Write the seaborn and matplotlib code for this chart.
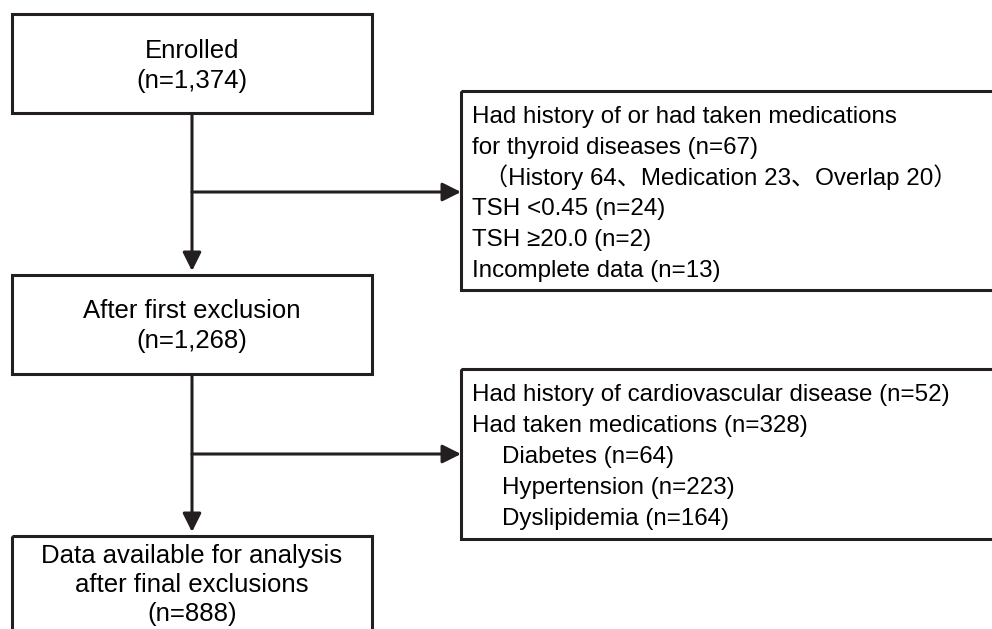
import matplotlib
matplotlib.use("Agg")
import matplotlib.pyplot as plt
import seaborn as sns
from matplotlib.patches import Rectangle

# flowchart content
stage_labels = ["Enrolled", "After first exclusion", "Data available for analysis\nafter final exclusions"]
stage_counts = ["1,374", "1,268", "888"]

excl1_lines = [
    "Had history of or had taken medications",
    "for thyroid diseases (n=67)",
    "（History 64、Medication 23、Overlap 20）",
    "TSH <0.45 (n=24)",
    "TSH ≥20.0 (n=2)",
    "Incomplete data (n=13)",
]
excl1_indent = [0, 0, 1, 0, 0, 0]

excl2_lines = [
    "Had history of cardiovascular disease (n=52)",
    "Had taken medications (n=328)",
    "Diabetes (n=64)",
    "Hypertension (n=223)",
    "Dyslipidemia (n=164)",
]
excl2_indent = [0, 0, 2, 2, 2]

sns.set_style("white")
plt.rcParams['font.family'] = ['Liberation Sans', 'Noto Sans CJK JP', 'DejaVu Sans']

LINE = "#231f20"
LW = 2.2
FS_MAIN = 18.5
FS_SIDE = 17.4

fig = plt.figure(figsize=(9.92, 6.29), dpi=100)
ax = fig.add_axes([0, 0, 1, 1])
ax.set_xlim(0, 992)
ax.set_ylim(629, 0)
ax.axis("off")


def box(x0, y0, x1, y1):
    ax.add_patch(Rectangle((x0, y0), x1 - x0, y1 - y0, fill=False,
                           edgecolor=LINE, linewidth=LW, clip_on=True))


def arrow(x0, y0, x1, y1):
    ax.annotate("", xy=(x1, y1), xytext=(x0, y0),
                arrowprops=dict(arrowstyle="-|>,head_length=0.8,head_width=0.4",
                                mutation_scale=14, color=LINE, lw=LW,
                                shrinkA=0, shrinkB=0))


# main boxes (left column)
main_boxes = [(12, 14, 372, 113), (12, 275, 372, 374), (12, 536, 372, 660)]
main_baselines = [[58, 88], [318, 348], [563, 592, 621]]
for (x0, y0, x1, y1), lab, cnt, bases in zip(main_boxes, stage_labels, stage_counts, main_baselines):
    box(x0, y0, x1, y1)
    lines = lab.split("\n") + [f"(n={cnt})"]
    for t, yb in zip(lines, bases):
        ax.text(192, yb, t, ha="center", va="baseline", fontsize=FS_MAIN, color="black")

# exclusion boxes (right column)
box(461, 91, 1010, 290)
for i, (t, ind) in enumerate(zip(excl1_lines, excl1_indent)):
    ax.text(472 + ind * 12, 123 + i * 30.8, t, ha="left", va="baseline", fontsize=FS_SIDE, color="black")

box(461, 369, 1010, 539)
for i, (t, ind) in enumerate(zip(excl2_lines, excl2_indent)):
    ax.text(472 + ind * 15, 401 + i * 31, t, ha="left", va="baseline", fontsize=FS_SIDE, color="black")

# connectors
arrow(192, 114, 192, 271)
arrow(192, 192, 461, 192)
arrow(192, 376, 192, 532)
arrow(192, 454, 461, 454)

fig.savefig("out.png", dpi=100)
